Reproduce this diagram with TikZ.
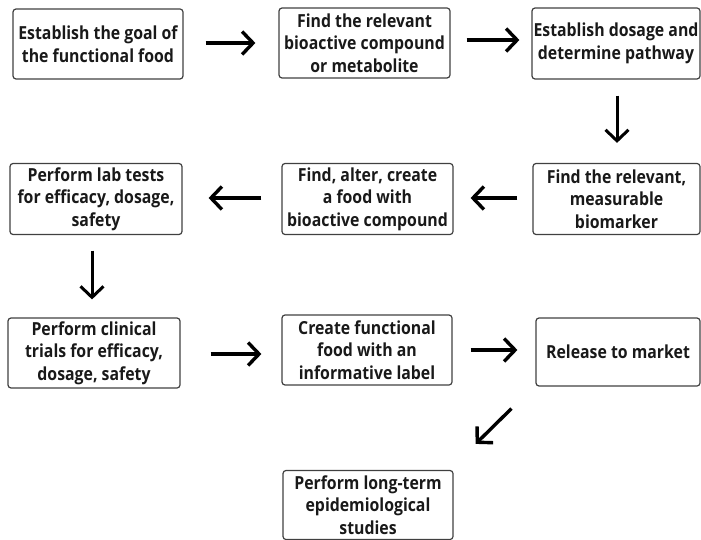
\documentclass[tikz,border=0pt]{standalone}
\usepackage{fontspec}
\setmainfont{Open Sans}[FakeStretch=0.88]
\usetikzlibrary{arrows.meta}
\begin{document}
\begin{tikzpicture}[x=1pt,y=-1pt,
  box/.style={draw=black!75,line width=1.2pt,rounded corners=3pt,align=center,
    font=\fontsize{18}{22.5}\selectfont\bfseries,text=black!90,inner sep=0pt},
  arr/.style={line width=3.4pt,-{Straight Barb[length=11pt,width=23pt]}}]
\useasboundingbox (0,0) rectangle (701,540);
\node[box,minimum width=170pt,minimum height=70pt] (b1) at (98,44) {Establish the goal of\\the functional food};
\node[box,minimum width=171pt,minimum height=70pt] (b2) at (364.5,43) {Find the relevant\\bioactive compound\\or metabolite};
\node[box,minimum width=168pt,minimum height=71pt] (b3) at (616,43.5) {Establish dosage and\\determine pathway};
\node[box,minimum width=172pt,minimum height=71pt] (b4) at (96,199) {Perform lab tests\\for efficacy, dosage,\\safety};
\node[box,minimum width=171pt,minimum height=71pt] (b5) at (367.5,199) {Find, alter, create\\a food with\\bioactive compound};
\node[box,minimum width=167pt,minimum height=71pt] (b6) at (616.5,199) {Find the relevant,\\measurable\\biomarker};
\node[box,minimum width=172pt,minimum height=70pt] (b7) at (94,353) {Perform clinical\\trials for efficacy,\\dosage, safety};
\node[box,minimum width=170pt,minimum height=70pt] (b8) at (367,350) {Create functional\\food with an\\informative label};
\node[box,minimum width=164pt,minimum height=68pt] (b9) at (618,352) {Release to market};
\node[box,minimum width=170pt,minimum height=69pt] (b10) at (368,505) {Perform long-term\\epidemiological\\studies};
\draw[arr,shorten <=22pt,shorten >=23pt] ([yshift=1pt]b1.east) -- ([yshift=1pt]b1.east -| b2.west);
\draw[arr,shorten <=16pt,shorten >=12pt] ([yshift=3pt]b2.east) -- ([yshift=3pt]b2.east -| b3.west);
\draw[arr,line width=3pt,shorten <=16pt,shorten >=20pt] ([xshift=1pt]b3.south) -- ([xshift=1pt]b3.south |- b6.north);
\draw[arr,shorten <=15pt,shorten >=17pt] ([yshift=1pt]b6.west) -- ([yshift=1pt]b6.west -| b5.east);
\draw[arr,shorten <=20pt,shorten >=26pt] ([yshift=1pt]b5.west) -- ([yshift=1pt]b5.west -| b4.east);
\draw[arr,line width=3pt,shorten <=15.5pt,shorten >=18pt] ([xshift=-4pt]b4.south) -- ([xshift=-4pt]b4.south |- b7.north);
\draw[arr,shorten <=30pt,shorten >=20pt] ([yshift=-1pt]b7.east) -- ([yshift=-1pt]b7.east -| b8.west);
\draw[arr,shorten <=18pt,shorten >=18pt] (b8.east) -- (b8.east -| b9.west);
\draw[arr] ([xshift=-24pt,yshift=-22pt]b9.south west) -- ([xshift=22pt,yshift=26pt]b10.north east);
\end{tikzpicture}
\end{document}
